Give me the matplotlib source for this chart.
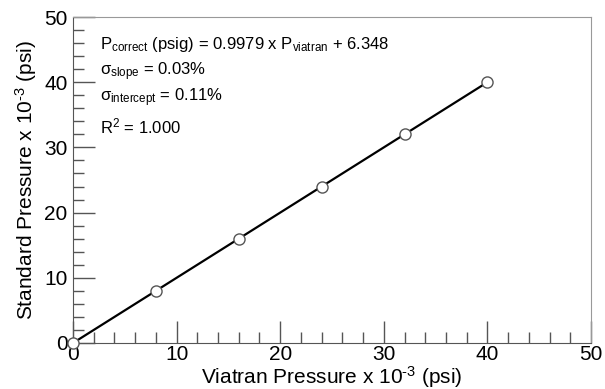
import matplotlib
matplotlib.use("Agg")
import matplotlib.pyplot as plt
import numpy as np
from matplotlib.ticker import MultipleLocator

plt.rcParams["font.family"] = ["Liberation Sans", "DejaVu Sans"]
plt.rcParams["mathtext.fontset"] = "custom"
plt.rcParams["mathtext.rm"] = "Liberation Sans"
plt.rcParams["mathtext.it"] = "Liberation Sans"
plt.rcParams["axes.unicode_minus"] = False

# calibration points (x 10^-3 psi)
viatran = [0, 8, 16, 24, 32, 40]
standard = [0, 8, 16, 24, 32, 40]
fit_x = [0, 40]

slope, intercept = np.polyfit(viatran, standard, 1)
fit_y = [slope * x + intercept for x in fit_x]

fig = plt.figure(figsize=(6.05, 3.89), dpi=100)
ax = fig.add_axes([73 / 605, 1 - 343 / 389, 518 / 605, 326 / 389])

ax.plot(fit_x, fit_y, color="black", lw=1.6, zorder=2)
ax.plot(viatran, standard, "o", ms=8, mfc="white", mec="#555555",
        mew=1.0, zorder=3, clip_on=False)

ax.set_xlim(0, 50)
ax.set_ylim(0, 50)
ax.xaxis.set_major_locator(MultipleLocator(10))
ax.xaxis.set_minor_locator(MultipleLocator(2))
ax.yaxis.set_major_locator(MultipleLocator(10))
ax.yaxis.set_minor_locator(MultipleLocator(2))
ax.tick_params(which="major", direction="in", length=16, width=1.0,
               color="#555555", labelsize=15, pad=4)
ax.tick_params(which="minor", direction="in", length=8, width=1.0,
               color="#555555")
ax.tick_params(axis="x", pad=1.5)
for side in ["top", "right"]:
    ax.spines[side].set_color("#999999")
for side in ["left", "bottom"]:
    ax.spines[side].set_color("#555555")

ax.set_xlabel("Viatran Pressure x 10$^{\\text{-3}}$ (psi)", fontsize=15, va="baseline")
ax.xaxis.set_label_coords(0.5, -0.124)
ax.set_ylabel("Standard Pressure x 10$^{\\text{-3}}$ (psi)", fontsize=15, labelpad=4)

fs = 12
ax.text(2.6, 45.1, "P$_{\\mathrm{correct}}$ (psig) = 0.9979 x P$_{\\mathrm{viatran}}$ + 6.348",
        fontsize=fs, va="baseline")
ax.text(2.6, 41.1, "$\\sigma_{\\mathrm{slope}}$ = 0.03%", fontsize=fs, va="baseline")
ax.text(2.6, 37.0, "$\\sigma_{\\mathrm{intercept}}$ = 0.11%", fontsize=fs, va="baseline")
ax.text(2.6, 32.2, "R$^2$ = 1.000", fontsize=fs, va="baseline")

fig.savefig("out.png", dpi=100)
